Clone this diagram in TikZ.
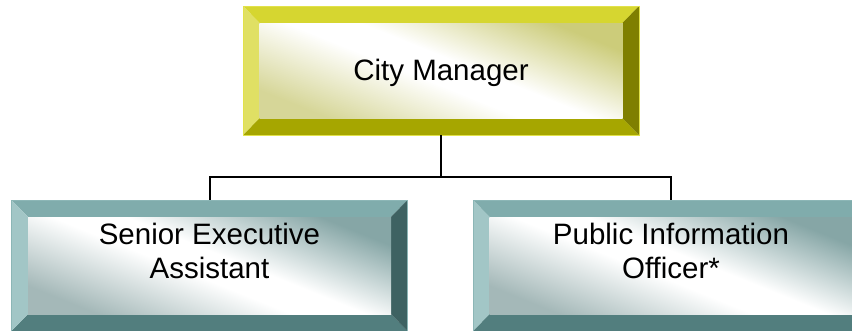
\documentclass[tikz,border=0pt]{standalone}
\usepackage{fontspec}
\setmainfont{Liberation Sans}
\usetikzlibrary{calc}
\definecolor{yT}{HTML}{D6D630}
\definecolor{yL}{HTML}{E0E064}
\definecolor{yR}{HTML}{7F7F00}
\definecolor{yB}{HTML}{A6A600}
\definecolor{yI}{HTML}{CCCC7A}
\definecolor{yJ}{HTML}{D6D698}
\definecolor{yE}{HTML}{E2E24A}
\definecolor{tT}{HTML}{80ACAC}
\definecolor{tL}{HTML}{A2C6C6}
\definecolor{tR}{HTML}{3E6262}
\definecolor{tB}{HTML}{527E7E}
\definecolor{tI}{HTML}{86A6A6}
\definecolor{tJ}{HTML}{A4B8B8}
\definecolor{tE}{HTML}{8CB6B6}
\pgfdeclareverticalshading{yshade}{100bp}{color(0bp)=(yJ); color(25bp)=(yJ); color(46bp)=(white); color(54bp)=(white); color(75bp)=(yI); color(100bp)=(yI)}
\pgfdeclareverticalshading{tshade}{100bp}{color(0bp)=(tJ); color(25bp)=(tJ); color(46bp)=(white); color(54bp)=(white); color(75bp)=(tI); color(100bp)=(tI)}
\newcommand\bevelbox[3]{%
  \fill[#2T] (#1.north west) -- (#1.north east) -- ($(#1.north east)+(-16.5,17)$) -- ($(#1.north west)+(16.5,17)$) -- cycle;
  \fill[#2B] (#1.south west) -- (#1.south east) -- ($(#1.south east)+(-16.5,-17)$) -- ($(#1.south west)+(16.5,-17)$) -- cycle;
  \fill[#2L] (#1.north west) -- ($(#1.north west)+(16.5,17)$) -- ($(#1.south west)+(16.5,-17)$) -- (#1.south west) -- cycle;
  \fill[#2R] (#1.north east) -- ($(#1.north east)+(-16.5,17)$) -- ($(#1.south east)+(-16.5,-17)$) -- (#1.south east) -- cycle;
  \shade[shading=#2shade, shading angle=#3] ($(#1.north west)+(16.5,17)$) rectangle ($(#1.south east)+(-16.5,-17)$);
  \draw[#2E, line width=0.8pt] (#1.north west) rectangle (#1.south east);
}
\tikzset{
  outerbox/.style={minimum width=396pt, minimum height=129pt, inner sep=0pt, outer sep=0pt},
  label/.style={font=\fontsize{29.5}{34}\selectfont, align=center, inner sep=0pt},
  conn/.style={line width=2pt, black}
}
\begin{document}
\begin{tikzpicture}[x=1pt, y=-1pt]
\useasboundingbox (0,0) rectangle (852,330);
\node[outerbox] (cm) at (441,70.5) {};
\node[outerbox, minimum height=131pt] (sea) at (209.5,265.5) {};
\node[outerbox, minimum height=131pt] (pio) at (671,265.5) {};
\bevelbox{cm}{y}{-22}
\bevelbox{sea}{t}{-22}
\bevelbox{pio}{t}{-22}
\node[label] (cmT) at (441,73) {City Manager};
\node[label] (seaT) at (209.5,251) {Senior Executive\\Assistant};
\node[label] (pioT) at (671,251) {Public Information\\Officer*};
\coordinate (jn) at (441,177);
\draw[conn] (cm.south) -- (jn);
\draw[conn] (jn) -| (sea.north);
\draw[conn] (jn) -| (pio.north);
\end{tikzpicture}
\end{document}
